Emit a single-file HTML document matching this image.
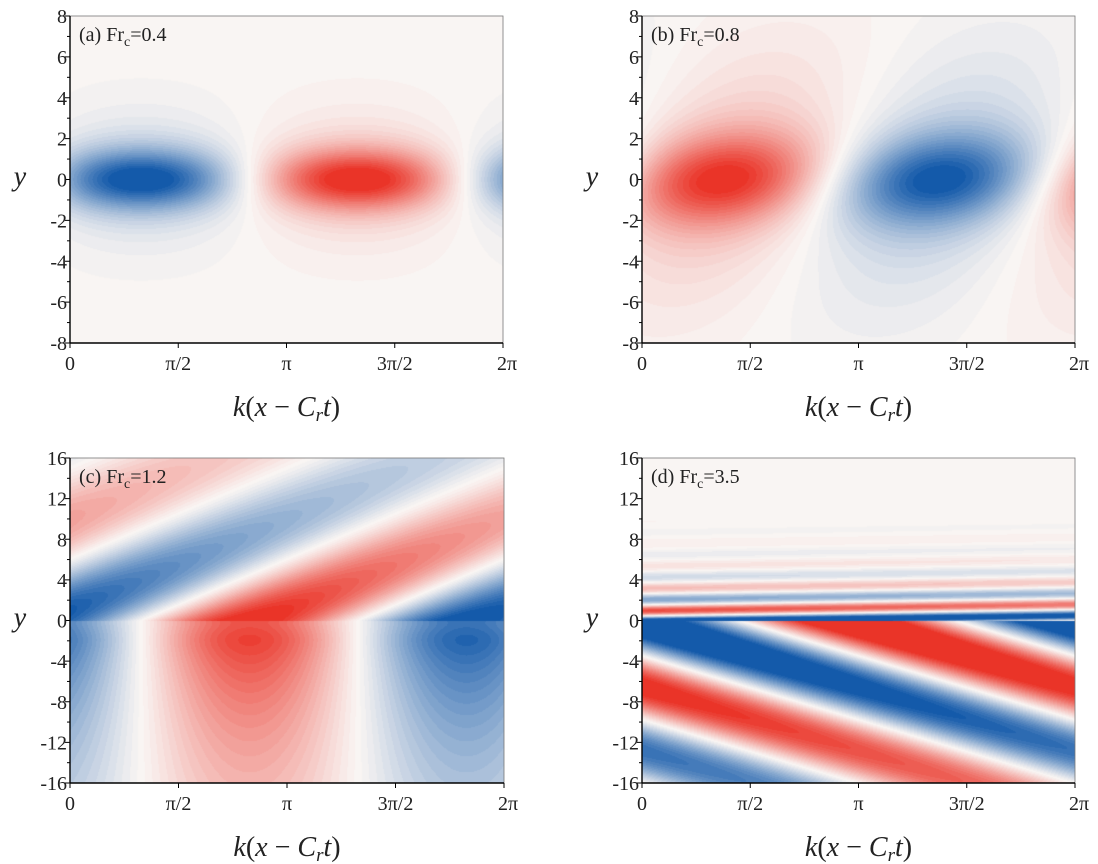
<!DOCTYPE html>
<html><head><meta charset="utf-8">
<style>
html,body{margin:0;padding:0;background:#fff;}
#wrap{position:relative;width:1098px;height:864px;overflow:hidden;font-family:"Liberation Serif",serif;}
canvas{position:absolute;}
svg{position:absolute;left:0;top:0;}
</style></head>
<body>
<div id="wrap">
<canvas id="cA"></canvas>
<canvas id="cB"></canvas>
<canvas id="cC"></canvas>
<canvas id="cD"></canvas>
<svg id="ax" width="1098" height="864"></svg>
</div>
<script>
// ---- data (per-panel parameters) ----
const panelIds = ["a","b","c","d"];
const frValues = ["0.4","0.8","1.2","3.5"];
const yMax = [8, 8, 16, 16];
const yMajorStep = [2, 2, 4, 4];
const nodePhase = [2.6, -0.4, 2.6, 1.4];
const tiltUpper = [0, 0.12, 0.35, 0.1];
const tiltLower = [0, 0.12, 0, -0.5];
const coreWidth = [2.2, 5, 16, 30];
const tailWidth = [10, 40, 13, 2.4];
const colorGain = [1.05, 1.0, 1.1, 1.35];
const xTickLabels = ["0","π/2","π","3π/2","2π"];
const xTickValues = [0, Math.PI/2, Math.PI, 3*Math.PI/2, 2*Math.PI];

// layout
const boxes = [
  {l:70,t:16,w:433,h:327,c:"cA"},
  {l:642,t:16,w:433,h:327,c:"cB"},
  {l:70,t:458,w:434,h:325,c:"cC"},
  {l:642,t:458,w:433,h:325,c:"cD"}
];
const WHITE=[249,245,243], RED=[234,52,40], BLUE=[20,90,170];

function field(i,x,y){
  const n=nodePhase[i];
  if(i===0){
    return Math.sin(x-n)*(0.8*Math.exp(-y*y/coreWidth[0])+0.25*Math.exp(-y*y/tailWidth[0]));
  }
  if(i===1){
    return Math.sin(x-n-tiltUpper[1]*y)*(0.75*Math.exp(-y*y/coreWidth[1])+0.3*Math.exp(-y*y/tailWidth[1]));
  }
  if(i===2){
    if(y<0) return Math.cos(x-n)*Math.exp(y/coreWidth[2])*(1-0.2*Math.exp(-y*y/2));
    return Math.cos(x-n-tiltUpper[2]*y)*Math.exp(-y/tailWidth[2]);
  }
  if(y<0) return Math.sin(x-n-tiltLower[3]*y)*Math.exp(y/coreWidth[3]);
  return Math.sin(2*Math.PI*(y-tiltUpper[3]*x)/2.2-1.29)*Math.exp(-y/tailWidth[3]);
}

boxes.forEach((b,i)=>{
  const cv=document.getElementById(b.c);
  cv.width=b.w; cv.height=b.h;
  cv.style.left=b.l+"px"; cv.style.top=b.t+"px";
  const ctx=cv.getContext("2d");
  const img=ctx.createImageData(b.w,b.h);
  for(let py=0;py<b.h;py++){
    const y=yMax[i]-(py+0.5)/b.h*2*yMax[i];
    for(let px=0;px<b.w;px++){
      const x=(px+0.5)/b.w*2*Math.PI;
      let v=field(i,x,y)*colorGain[i];
      let t=Math.min(1,Math.abs(v));
      t=Math.pow(Math.round(t*22)/22,1.2);
      const e=v>=0?RED:BLUE;
      const k=(py*b.w+px)*4;
      for(let c=0;c<3;c++) img.data[k+c]=Math.round(WHITE[c]+(e[c]-WHITE[c])*t);
      img.data[k+3]=255;
    }
  }
  ctx.putImageData(img,0,0);
});

// ---- axes ----
const svg=document.getElementById("ax");
const NS="http://www.w3.org/2000/svg";
function mk(tag,attrs,parent){const e=document.createElementNS(NS,tag);for(const a in attrs)e.setAttribute(a,attrs[a]);(parent||svg).appendChild(e);return e;}

boxes.forEach((b,i)=>{
  const g=mk("g",{});
  
  
  mk("rect",{x:b.l,y:b.t,width:b.w,height:b.h,fill:"none",stroke:"#777","stroke-width":0.8},g);
  mk("line",{x1:b.l,y1:b.t,x2:b.l,y2:b.t+b.h,stroke:"#000","stroke-width":1.4},g);
  mk("line",{x1:b.l,y1:b.t+b.h,x2:b.l+b.w,y2:b.t+b.h,stroke:"#000","stroke-width":1.4},g);
  const ys=v=>b.t+(yMax[i]-v)/(2*yMax[i])*b.h;
  const xs=v=>b.l+v/(2*Math.PI)*b.w;
  const st=yMajorStep[i];
  for(let v=-yMax[i];v<=yMax[i]+1e-9;v+=st/2){
    const major=Math.abs(v/st-Math.round(v/st))<1e-6;
    mk("line",{x1:b.l-(major?5:3),y1:ys(v),x2:b.l,y2:ys(v),stroke:"#000","stroke-width":1},g);
    if(major){
      const t=mk("text",{x:b.l-3,y:ys(v)+7,"text-anchor":"end","font-size":20,fill:"#222"},g);
      t.textContent=String(v);
      
      
    }
  }
  xTickValues.forEach((v,j)=>{
    mk("line",{x1:xs(v),y1:b.t+b.h,x2:xs(v),y2:b.t+b.h+5,stroke:"#000","stroke-width":1},g);
    const t=mk("text",{x:xs(v)+(j===4?4:0),y:b.t+b.h+27,"text-anchor":"middle","font-size":20,fill:"#222"},g);
    t.textContent=xTickLabels[j];
    
    
  });
  // panel label
  const lab=mk("text",{x:b.l+9,y:b.t+25,"font-size":20,fill:"#222"},g);
  
  
  lab.appendChild(document.createTextNode("("+panelIds[i]+") Fr"));
  const sub=mk("tspan",{"font-size":14,dy:5},lab); sub.textContent="c";
  const rest=mk("tspan",{dy:-5},lab); rest.textContent="="+frValues[i];
  // y title
  const yt=mk("text",{x:b.l-50,y:b.t+b.h/2+6,"font-size":28,"font-style":"italic",fill:"#222","text-anchor":"middle"},g);
  yt.textContent="y";
  
  
  // x title
  const xt=mk("text",{x:b.l+b.w/2,y:b.t+b.h+73,"font-size":28,fill:"#222","text-anchor":"middle"},g);
  
  
  const parts=[["k","i"],["(","n"],["x","i"],[" − ","n"],["C","i"]];
  parts.forEach(p=>{const s=mk("tspan",{"font-style":p[1]==="i"?"italic":"normal"},xt);s.textContent=p[0];});
  const r=mk("tspan",{"font-style":"italic","font-size":19,dy:5},xt); r.textContent="r";
  const tt=mk("tspan",{"font-style":"italic",dy:-5},xt); tt.textContent="t";
  const cp=mk("tspan",{},xt); cp.textContent=")";
});
</script>
</body></html>
